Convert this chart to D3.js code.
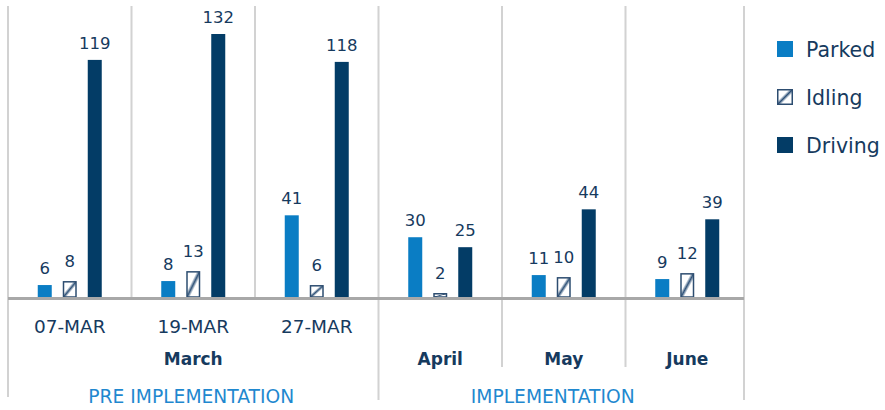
<!DOCTYPE html>
<html>
<head>
<meta charset="utf-8">
<script src="https://cdn.jsdelivr.net/npm/d3@7"></script>
<style>
  html, body { margin: 0; padding: 0; background: #ffffff; }
  svg { display: block; }
  text { font-family: "DejaVu Sans", Verdana, sans-serif; }
</style>
</head>
<body>
<svg id="chart" width="885" height="410"></svg>
<script>
// ---------- data ----------
const categories = ["07-MAR", "19-MAR", "27-MAR", "April", "May", "June"];
const subLabels  = ["07-MAR", "19-MAR", "27-MAR", "", "", ""];
const monthLabels = ["March", "April", "May", "June"];
const monthSpans  = [[0, 2], [3, 3], [4, 4], [5, 5]];
const phaseLabels = ["PRE IMPLEMENTATION", "IMPLEMENTATION"];
const phaseSpans  = [[0, 2], [3, 5]];
const seriesNames = ["Parked", "Idling", "Driving"];
const parked  = [6, 8, 41, 30, 11, 9];
const idling  = [8, 13, 6, 2, 10, 12];
const driving = [119, 132, 118, 25, 44, 39];

const seriesValues = [parked, idling, driving];
const colors = { Parked: "#0a7dc4", Idling: "#ffffff", Driving: "#033c66" };
const textColor = "#163a5e";
const phaseColor = "#1f88cf";

const svg = d3.select("#chart");
const defs = svg.append("defs");
const grad = defs.append("linearGradient")
  .attr("id", "idleGrad")
  .attr("x1", 0).attr("y1", 0).attr("x2", 1).attr("y2", 1);
[[0, "#ffffff"], [0.38, "#ffffff"], [0.5, "#2f5278"], [0.62, "#ffffff"], [1, "#ffffff"]]
  .forEach(([o, c]) => grad.append("stop").attr("offset", o).attr("stop-color", c));

// ---------- scales ----------
const plotLeft = 8, plotRight = 744, bandEnd = 749;
const x = d3.scaleBand().domain(categories).range([plotLeft, bandEnd]).padding(0);
const xs = d3.scaleBand().domain(seriesNames).range([0, 75]).paddingInner(0.44).paddingOuter(0.22);
const y = d3.scaleLinear().domain([0, 132]).range([297, 34]);
const y0 = y(0);

const grid = svg.append("g");
const gridColor = "#d2d2d2";
const lineTop = 6;
// vertical separators
function vline(xp, yBottom) {
  grid.append("line").attr("x1", xp).attr("x2", xp).attr("y1", lineTop).attr("y2", yBottom)
    .attr("stroke", gridColor).attr("stroke-width", 2);
}
vline(plotLeft, 397);
categories.forEach((c, i) => {
  if (i === 0) return;
  const xp = x(c);
  const samePhase = phaseSpans.some(s => i > s[0] && i <= s[1]);
  const sameMonth = monthSpans.some(s => i > s[0] && i <= s[1]);
  if (sameMonth) vline(xp, y0);
  else if (samePhase) vline(xp, 367);
  else vline(xp, 400);
});
vline(plotRight, 400);

// ---------- bars ----------
const barsG = svg.append("g");
categories.forEach((c, i) => {
  const gx = x(c) + x.bandwidth() / 2 - 37.5;
  seriesNames.forEach((s, k) => {
    const v = seriesValues[k][i];
    const bx = gx + xs(s);
    const bw = xs.bandwidth();
    const by = y(v);
    const bh = y0 - by;
    if (s === "Idling") {
      barsG.append("rect")
        .attr("x", bx + 0.75).attr("y", by + 0.75)
        .attr("width", bw - 1.5).attr("height", Math.max(bh - 0.75, 0.5))
        .attr("fill", "url(#idleGrad)")
        .attr("stroke", "#2d4d70").attr("stroke-width", 1.5);
    } else {
      barsG.append("rect")
        .attr("x", bx).attr("y", by)
        .attr("width", bw).attr("height", bh)
        .attr("fill", colors[s]);
    }
    barsG.append("text")
      .attr("x", bx + bw / 2)
      .attr("y", by - (s === "Idling" ? 14 : 11))
      .attr("text-anchor", "middle")
      .attr("font-size", 16.5)
      .attr("fill", textColor)
      .text(v);
  });
});

// ---------- axis line ----------
svg.append("line")
  .attr("x1", plotLeft).attr("x2", plotRight)
  .attr("y1", y0 + 1.5).attr("y2", y0 + 1.5)
  .attr("stroke", "#a8a8a8").attr("stroke-width", 3);

// ---------- category labels ----------
categories.forEach((c, i) => {
  if (!subLabels[i]) return;
  svg.append("text")
    .attr("x", x(c) + x.bandwidth() / 2)
    .attr("y", 333)
    .attr("text-anchor", "middle")
    .attr("font-size", 18.5)
    .attr("fill", textColor)
    .text(subLabels[i]);
});
monthLabels.forEach((m, j) => {
  const [a, b] = monthSpans[j];
  const cx = (x(categories[a]) + x(categories[b]) + x.bandwidth()) / 2;
  svg.append("text")
    .attr("x", cx).attr("y", 365)
    .attr("text-anchor", "middle")
    .attr("font-size", 17)
    .attr("font-weight", "bold")
    .attr("fill", textColor)
    .text(m);
});
const phaseOffsets = [-2, -11];
phaseLabels.forEach((p, j) => {
  const [a, b] = phaseSpans[j];
  const cx = (x(categories[a]) + x(categories[b]) + x.bandwidth()) / 2 + phaseOffsets[j];
  svg.append("text")
    .attr("x", cx).attr("y", 403)
    .attr("text-anchor", "middle")
    .attr("font-size", 18.7)
    .attr("fill", phaseColor)
    .text(p);
});

// ---------- legend ----------
const legend = svg.append("g").attr("transform", "translate(777,41)");
seriesNames.forEach((s, k) => {
  const g = legend.append("g").attr("transform", `translate(0,${k * 48})`);
  if (s === "Idling") {
    g.append("rect").attr("x", 0.75).attr("y", 0.75).attr("width", 14.5).attr("height", 14.5)
      .attr("fill", "url(#idleGrad)").attr("stroke", "#2d4d70").attr("stroke-width", 1.5);
  } else {
    g.append("rect").attr("width", 16).attr("height", 16).attr("fill", colors[s]);
  }
  g.append("text").attr("x", 29).attr("y", 16)
    .attr("font-size", 20.5)
    .attr("fill", textColor)
    .text(s);
});
</script>
</body>
</html>
